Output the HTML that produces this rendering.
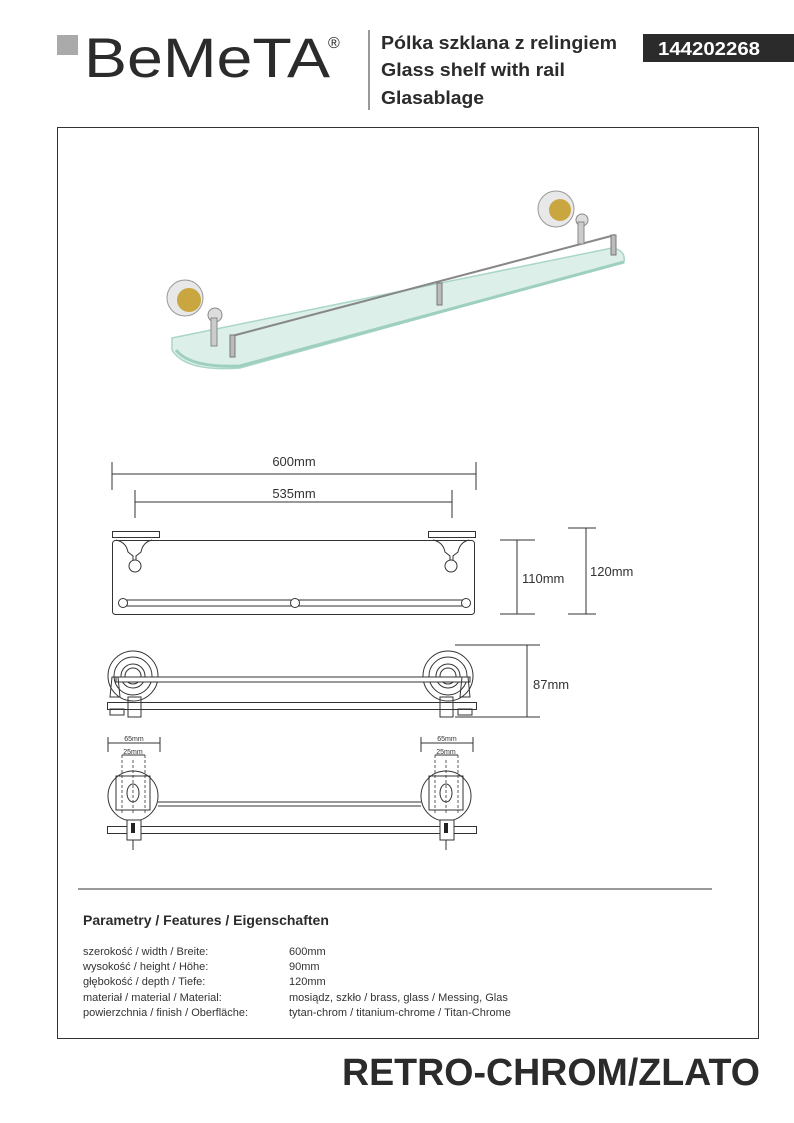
<!DOCTYPE html>
<html><head><meta charset="utf-8"><style>
body{margin:0;background:#fff;}
svg{display:block;}
text{font-family:"Liberation Sans",sans-serif;}
</style></head><body>
<svg width="794" height="1123" viewBox="0 0 794 1123" xmlns="http://www.w3.org/2000/svg">
<!-- header -->
<rect x="57" y="35" width="21" height="20" fill="#aaaaaa"/>
<text x="84" y="77" font-size="56" fill="#2b2b2b" textLength="246" lengthAdjust="spacingAndGlyphs">BeMeTA</text>
<text x="328" y="48" font-size="16" fill="#2b2b2b">®</text>
<line x1="369" y1="30" x2="369" y2="110" stroke="#333" stroke-width="1"/>
<g font-size="18" font-weight="bold" fill="#2b2b2b">
<text x="381" y="49" textLength="236" lengthAdjust="spacingAndGlyphs">Pólka szklana z relingiem</text>
<text x="381" y="76" textLength="184" lengthAdjust="spacingAndGlyphs">Glass shelf with rail</text>
<text x="381" y="104" textLength="103" lengthAdjust="spacingAndGlyphs">Glasablage</text>
</g>
<rect x="643" y="34" width="151" height="28" fill="#2b2b2b"/>
<text x="658" y="55" font-size="18" font-weight="bold" fill="#fff" textLength="102" lengthAdjust="spacingAndGlyphs">144202268</text>
<!-- frame -->
<rect x="57.5" y="127.5" width="701" height="911" fill="none" stroke="#333" stroke-width="1"/>
<!-- photo -->
<path d="M172,338 L612,248 Q626,250 624,262 L240,368 Q185,372 172,350 Z" fill="#dcefe9" stroke="#a9d6c7" stroke-width="1.5"/>
<path d="M176,350 Q190,368 240,366 L624,262" fill="none" stroke="#9fd0bf" stroke-width="3"/>
<line x1="232" y1="336" x2="615" y2="235" stroke="#888" stroke-width="2"/>
<circle cx="185" cy="298" r="18" fill="#e8e8e8" stroke="#999"/>
<circle cx="189" cy="300" r="12" fill="#c9a640"/>
<circle cx="556" cy="209" r="18" fill="#e8e8e8" stroke="#999"/>
<circle cx="560" cy="210" r="11" fill="#c9a640"/>
<circle cx="215" cy="315" r="7" fill="#ddd" stroke="#888"/>
<rect x="211" y="318" width="6" height="28" fill="#ccc" stroke="#888"/>
<circle cx="582" cy="220" r="6" fill="#ddd" stroke="#888"/>
<rect x="578" y="222" width="6" height="22" fill="#ccc" stroke="#888"/>
<rect x="230" y="335" width="5" height="22" fill="#bbb" stroke="#777"/>
<rect x="437" y="283" width="5" height="22" fill="#bbb" stroke="#777"/>
<rect x="611" y="235" width="5" height="20" fill="#bbb" stroke="#777"/>
<!-- dims top -->
<g stroke="#333" stroke-width="1" fill="none">
<line x1="112" y1="474" x2="476" y2="474"/><line x1="112" y1="462" x2="112" y2="490"/><line x1="476" y1="462" x2="476" y2="490"/>
<line x1="135" y1="502" x2="452" y2="502"/><line x1="135" y1="490" x2="135" y2="518"/><line x1="452" y1="490" x2="452" y2="518"/>
<!-- front view -->
<rect x="112.5" y="540.5" width="362" height="74" rx="3"/>
<rect x="112.5" y="531.5" width="47" height="6"/>
<rect x="428.5" y="531.5" width="47" height="6"/>
<path d="M116,540 Q126,542 128,552 L133,556 L133,560 M152,540 Q143,542 141,552 L136,556 L136,560"/>
<circle cx="135" cy="566" r="6"/>
<path d="M433,540 Q443,542 445,552 L450,556 L450,560 M469,540 Q460,542 458,552 L453,556 L453,560"/>
<circle cx="451" cy="566" r="6"/>
<rect x="123" y="600" width="343" height="6" rx="3"/>
<circle cx="123" cy="603" r="4.5" fill="#fff"/><circle cx="295" cy="603" r="4.5" fill="#fff"/><circle cx="466" cy="603" r="4.5" fill="#fff"/>
<line x1="500" y1="540" x2="535" y2="540"/><line x1="500" y1="614" x2="535" y2="614"/><line x1="517" y1="540" x2="517" y2="614"/>
<line x1="568" y1="528" x2="596" y2="528"/><line x1="568" y1="614" x2="596" y2="614"/><line x1="586" y1="528" x2="586" y2="614"/>
<!-- top view -->
<circle cx="133" cy="676" r="25"/><circle cx="133" cy="676" r="19"/><circle cx="133" cy="676" r="12"/><circle cx="133" cy="676" r="8"/>
<circle cx="448" cy="676" r="25"/><circle cx="448" cy="676" r="19"/><circle cx="448" cy="676" r="12"/><circle cx="448" cy="676" r="8"/>
<rect x="116" y="677" width="354" height="5" fill="#fff"/>
<rect x="107.5" y="702.5" width="369" height="7" fill="#fff"/>
<rect x="110" y="709" width="14" height="6"/><rect x="128" y="697" width="13" height="20"/>
<rect x="440" y="697" width="13" height="20"/><rect x="458" y="709" width="14" height="6"/>
<path d="M112,677 L110,697 L120,697 L118,677 Z"/><path d="M462,677 L460,697 L470,697 L468,677 Z"/>
<line x1="455" y1="645" x2="540" y2="645"/><line x1="455" y1="717" x2="540" y2="717"/><line x1="527" y1="645" x2="527" y2="717"/>
<!-- bottom view -->
<line x1="108" y1="743" x2="160" y2="743"/><line x1="108" y1="737" x2="108" y2="752"/><line x1="160" y1="737" x2="160" y2="752"/>
<line x1="122" y1="755" x2="145" y2="755"/>
<line x1="421" y1="743" x2="473" y2="743"/><line x1="421" y1="737" x2="421" y2="752"/><line x1="473" y1="737" x2="473" y2="752"/>
<line x1="435" y1="755" x2="458" y2="755"/>
<circle cx="133" cy="796" r="25"/><rect x="116" y="776" width="34" height="34"/><ellipse cx="133" cy="793" rx="6" ry="9"/>
<circle cx="446" cy="796" r="25"/><rect x="429" y="776" width="34" height="34"/><ellipse cx="446" cy="793" rx="6" ry="9"/>
<line x1="158" y1="802" x2="421" y2="802"/><line x1="158" y1="806" x2="421" y2="806"/>
<rect x="107.5" y="826.5" width="369" height="7" fill="#fff"/>
<rect x="127" y="820" width="14" height="20" fill="#fff"/><rect x="440" y="820" width="14" height="20" fill="#fff"/>
<line x1="133" y1="840" x2="133" y2="850"/><line x1="446" y1="840" x2="446" y2="850"/>
<line x1="78" y1="889" x2="712" y2="889"/>
</g>
<g stroke="#333" stroke-width="0.8" stroke-dasharray="3,2" fill="none">
<line x1="122" y1="755" x2="122" y2="815"/><line x1="145" y1="755" x2="145" y2="815"/><line x1="133" y1="760" x2="133" y2="815"/>
<line x1="435" y1="755" x2="435" y2="815"/><line x1="458" y1="755" x2="458" y2="815"/><line x1="446" y1="760" x2="446" y2="815"/>
</g>
<rect x="131" y="823" width="4" height="10" fill="#222"/><rect x="444" y="823" width="4" height="10" fill="#222"/>
<g fill="#333" font-size="13">
<text x="294" y="466" text-anchor="middle">600mm</text>
<text x="294" y="498" text-anchor="middle">535mm</text>
<text x="522" y="583">110mm</text>
<text x="590" y="576">120mm</text>
<text x="533" y="689">87mm</text>
</g>
<g fill="#333" font-size="7">
<text x="134" y="741" text-anchor="middle">65mm</text><text x="133" y="754" text-anchor="middle">25mm</text>
<text x="447" y="741" text-anchor="middle">65mm</text><text x="446" y="754" text-anchor="middle">25mm</text>
</g>
<!-- features -->
<text x="83" y="925" font-size="14" font-weight="bold" fill="#2b2b2b">Parametry / Features / Eigenschaften</text>
<g font-size="11" fill="#333">
<text x="83" y="955">szerokość / width / Breite:</text><text x="289" y="955">600mm</text>
<text x="83" y="970">wysokość / height / Höhe:</text><text x="289" y="970">90mm</text>
<text x="83" y="985">głębokość / depth / Tiefe:</text><text x="289" y="985">120mm</text>
<text x="83" y="1001">materiał / material / Material:</text><text x="289" y="1001">mosiądz, szkło / brass, glass / Messing, Glas</text>
<text x="83" y="1016">powierzchnia / finish / Oberfläche:</text><text x="289" y="1016">tytan-chrom / titanium-chrome / Titan-Chrome</text>
</g>
<text x="342" y="1085" font-size="38" font-weight="bold" fill="#2b2b2b" textLength="418" lengthAdjust="spacingAndGlyphs">RETRO-CHROM/ZLATO</text>
</svg>
</body></html>
